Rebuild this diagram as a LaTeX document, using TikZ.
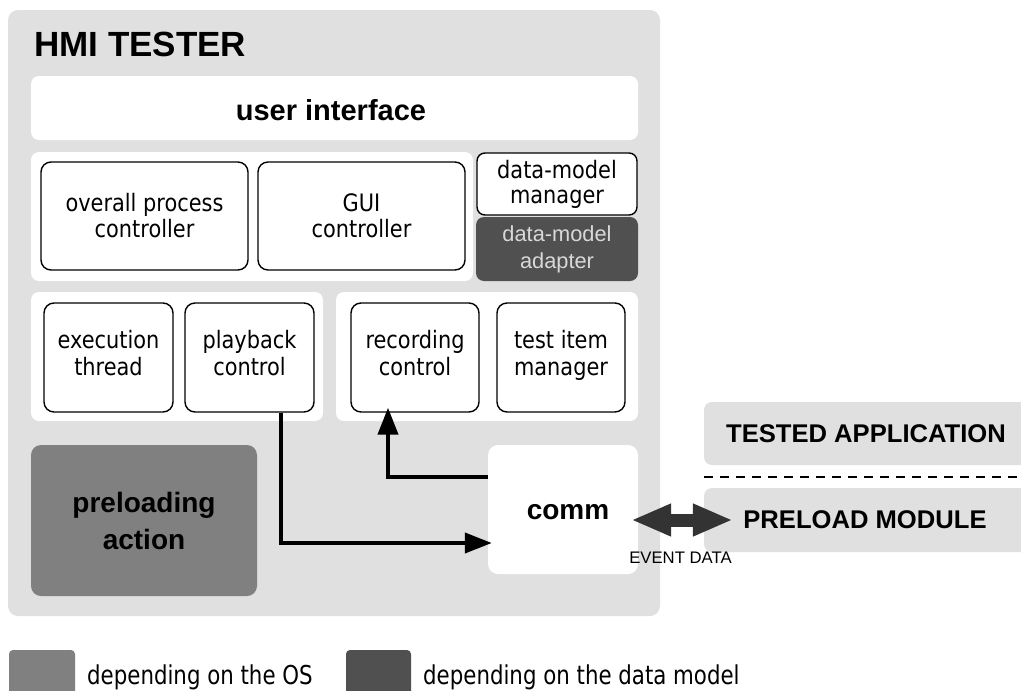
\documentclass[tikz,border=0pt]{standalone}
\usepackage{fontspec}
\setmainfont{DejaVu Sans}[FakeStretch=0.87]
\newfontfamily\legfont{DejaVu Sans}[FakeStretch=0.82]
\newfontfamily\lib{Liberation Sans}
\usetikzlibrary{arrows.meta}
\definecolor{lightg}{HTML}{E0E0E0}
\definecolor{midg}{HTML}{808080}
\definecolor{darkg}{HTML}{505050}
\definecolor{arrg}{HTML}{333333}
\definecolor{adtext}{HTML}{D8D8D8}
\begin{document}
\begin{tikzpicture}[x=1pt,y=-1pt,
  outerbox/.style={fill=lightg, draw=none, rounded corners=10pt, inner sep=0pt},
  panel/.style={fill=white, draw=none, rounded corners=8pt, inner sep=0pt},
  comp/.style={draw=black, line width=1.4pt, fill=white, rounded corners=10pt, align=center, inner sep=0pt, font=\fontsize{24}{26}\selectfont},
  lowcomp/.style={comp, minimum height=109pt, text depth=10pt, font=\fontsize{24}{27}\selectfont},
  bigbold/.style={font=\lib\bfseries\fontsize{28}{37}\selectfont, align=center},
  extbold/.style={font=\lib\bfseries\fontsize{25.6}{30}\selectfont},
  legtext/.style={anchor=base west, font=\legfont\fontsize{26}{30}\selectfont},
  flowarrow/.style={draw=black, line width=4pt, -{Triangle[length=27pt,width=20pt]}},
  dblarrow/.style={draw=arrg, line width=13pt, {Triangle[length=40pt,width=30pt]}-{Triangle[length=40pt,width=30pt]}}
]
\useasboundingbox (0,0) rectangle (1021,691);
\clip (0,0) rectangle (1021,691);

% outer HMI tester container
\node[outerbox, minimum width=652pt, minimum height=606pt] (hmi) at (334,313) {};
\node[anchor=base west, font=\lib\bfseries\fontsize{35}{40}\selectfont, inner sep=0pt] (title) at (34,56) {HMI TESTER};

% user interface
\node[panel, minimum width=607pt, minimum height=64pt] (ui) at (334.5,108) {};
\node[bigbold, font=\lib\bfseries\fontsize{29}{36}\selectfont, inner sep=0pt] (uit) at (331,110) {user interface};

% middle panel
\node[panel, minimum width=442pt, minimum height=129pt] (midp) at (252,216.5) {};
\node[comp, minimum width=207pt, minimum height=108pt] (opc) at (144.5,216) {overall process\\controller};
\node[comp, minimum width=207pt, minimum height=108pt] (gui) at (361.5,216) {GUI\\controller};
\node[comp, minimum width=160pt, minimum height=62pt, rounded corners=8pt, font=\fontsize{24}{25}\selectfont] (dmm) at (557,184) {data-model\\manager};
\node[fill=darkg, draw=none, rounded corners=8pt, minimum width=162pt, minimum height=64pt, inner sep=0pt, align=center, text=adtext, font=\lib\fontsize{21.8}{27}\selectfont] (dma) at (557,249) {data-model\\adapter};

% lower panels
\node[panel, minimum width=292pt, minimum height=129pt] (lpan) at (177,356.5) {};
\node[panel, minimum width=302pt, minimum height=129pt] (rpan) at (487,356.5) {};
\node[lowcomp, minimum width=129pt] (exe) at (108.5,357.5) {execution\\thread};
\node[lowcomp, minimum width=129pt] (pb) at (249.5,357.5) {playback\\control};
\node[lowcomp, minimum width=128pt] (rec) at (415,357.5) {recording\\control};
\node[lowcomp, minimum width=128pt] (tim) at (561,357.5) {test item\\manager};

% preloading action and comm
\node[fill=midg, draw=none, rounded corners=10pt, minimum width=226pt, minimum height=151pt, inner sep=0pt, bigbold] (prel) at (144,520.5) {preloading\\action};
\node[fill=white, draw=none, rounded corners=10pt, minimum width=150pt, minimum height=129pt, inner sep=0pt] (comm) at (563,509.5) {};
\node[bigbold, inner sep=0pt] (commt) at (568,512) {comm};

% flows
\draw[flowarrow, shorten >=-4pt] ([xshift=31.5pt]pb.south) |- ([yshift=-33.5pt]comm.west);
\draw[flowarrow, shorten >=-5pt] ([yshift=32.5pt]comm.west) -| ([xshift=-27pt]rec.south);

% tested application side
\node[fill=lightg, draw=none, rounded corners=8pt, minimum width=336pt, minimum height=63pt, inner sep=0pt] (tapp) at (872,433.5) {};
\node[extbold, inner sep=0pt] (tappt) at (866,434) {TESTED APPLICATION};
\node[fill=lightg, draw=none, rounded corners=8pt, minimum width=336pt, minimum height=64pt, inner sep=0pt] (pre) at (872,520) {};
\node[extbold, inner sep=0pt] (pret) at (865,520) {PRELOAD MODULE};
\coordinate (dl) at (704,477);
\coordinate (dr) at (1021,477);
\draw[line width=2pt, dash pattern=on 9pt off 7pt] (dl) -- (dr);

% event data double arrow
\coordinate (ea) at ([shift={(-7pt,-10.5pt)}]comm.east);
\coordinate (eb) at ([xshift=29pt]pre.west |- ea);
\draw[dblarrow] (ea) -- (eb);
\node[font=\lib\fontsize{16.7}{20}\selectfont, inner sep=0pt] (evt) at (680.5,558) {EVENT DATA};

% legend
\node[fill=midg, draw=none, rounded corners=4pt, minimum width=66pt, minimum height=50pt, inner sep=0pt] (sq1) at (42,675) {};
\node[legtext, inner sep=0pt] (lt1) at (87,684) {depending on the OS};
\node[fill=darkg, draw=none, rounded corners=4pt, minimum width=65pt, minimum height=50pt, inner sep=0pt] (sq2) at (378.5,675) {};
\node[legtext, inner sep=0pt] (lt2) at (423,684) {depending on the data model};
\end{tikzpicture}
\end{document}
